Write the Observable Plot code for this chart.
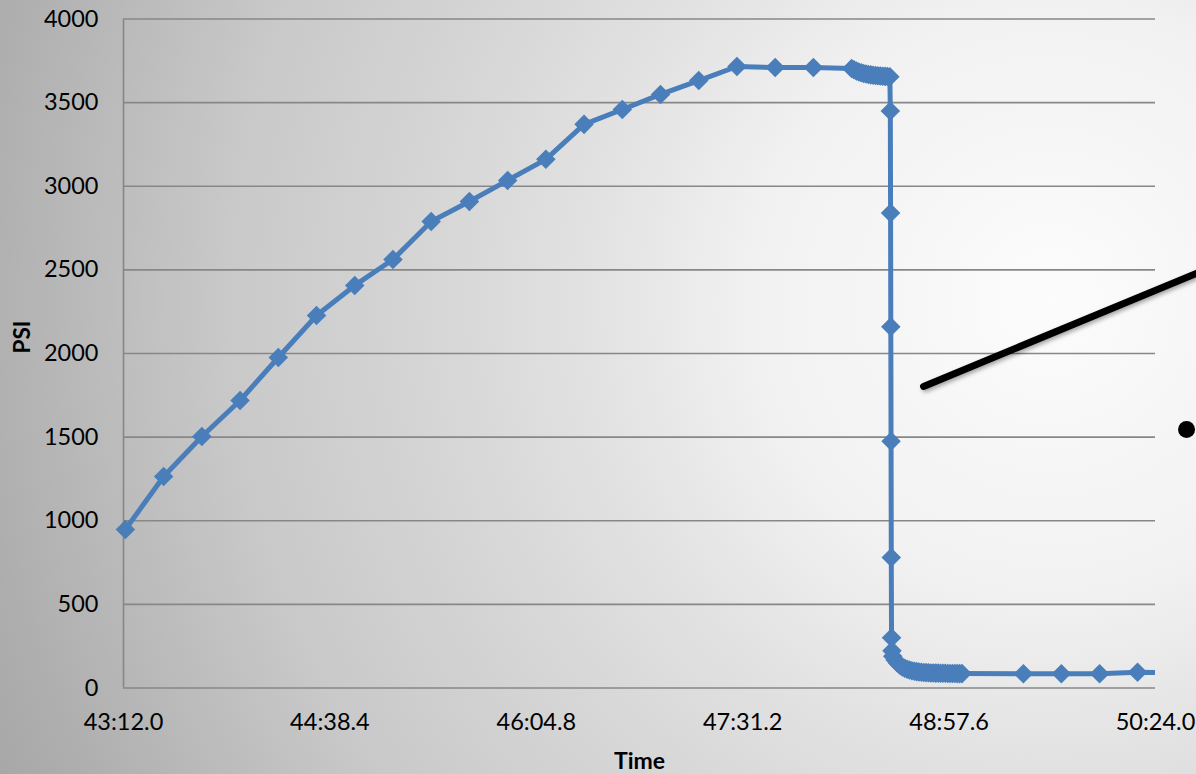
<!DOCTYPE html>
<html>
<head>
<meta charset="utf-8">
<title>PSI vs Time</title>
<script src="https://cdn.jsdelivr.net/npm/d3@7"></script>
<script src="https://cdn.jsdelivr.net/npm/@observablehq/plot@0.6"></script>
<style>
  html, body { margin: 0; padding: 0; }
  body {
    width: 1196px; height: 774px; overflow: hidden;
    background: radial-gradient(circle farthest-corner at 1050px 300px,
      #fcfcfc 0px, #f1f1f1 300px, #e3e3e3 450px, #d6d6d6 620px,
      #c9c9c9 820px, #acacac 1100px, #a4a4a4 1200px);
  }
  #chart svg { display: block; }
</style>
</head>
<body>
<div id="chart"></div>
<script>
// Pump-up phase: one reading every 16 s (time as mm:ss.s, pressure in PSI)
const rampTime = ["43:12.8", "43:28.8", "43:44.8", "44:00.8", "44:16.8", "44:32.8", "44:48.8",
  "45:04.8", "45:20.8", "45:36.8", "45:52.8", "46:08.8", "46:24.8", "46:40.8", "46:56.8",
  "47:12.8", "47:28.8", "47:44.8", "48:00.8", "48:16.8"];
const rampPsi = [948, 1265, 1504, 1719, 1976, 2227, 2407, 2562, 2789, 2909, 3035, 3161,
  3370, 3459, 3549, 3632, 3716, 3710, 3710, 3704];

// Hold before release, logged every second
const holdTime = ["48:17.8", "48:18.8", "48:19.8", "48:20.8", "48:21.8", "48:22.8", "48:23.8",
  "48:24.8", "48:25.8", "48:26.8", "48:27.8", "48:28.8", "48:29.8", "48:30.8", "48:31.8", "48:32.8"];
const holdPsi = [3696, 3689, 3683, 3678, 3674, 3671, 3668, 3666, 3664, 3662, 3661, 3659,
  3658, 3657, 3656, 3655];

// Release: fast drop, then the residual pressure settling
const releaseTime = ["48:33.0", "48:33.1", "48:33.2", "48:33.3", "48:33.4", "48:33.5", "48:33.7",
  "48:34.0", "48:35.0", "48:36.0", "48:37.0", "48:38.0", "48:39.0", "48:40.0", "48:41.0",
  "48:42.0", "48:43.0", "48:44.0", "48:45.0", "48:46.0", "48:47.0", "48:48.0", "48:49.0",
  "48:50.0", "48:51.0", "48:52.0", "48:53.0", "48:54.0", "48:55.0", "48:56.0", "48:57.0",
  "48:58.0", "48:59.0", "49:00.0", "49:01.0", "49:02.0", "49:03.0"];
const releasePsi = [3450, 2840, 2160, 1475, 780, 300, 222, 190, 168, 150, 136, 126, 118, 112,
  107, 103, 100, 98, 96, 94, 93, 92, 91, 90, 90, 89, 89, 88, 88, 88, 87, 87, 87, 87, 86, 86, 86];

// Tail readings after the release
const tailTime = ["49:28.7", "49:44.6", "50:00.6", "50:16.5", "50:32.5"];
const tailPsi = [85, 85, 85, 94, 92];

// Axis ticks
const xTickLabels = ["43:12.0", "44:38.4", "46:04.8", "47:31.2", "48:57.6", "50:24.0"];
const yTicks = [0, 500, 1000, 1500, 2000, 2500, 3000, 3500, 4000];

// Callout pointer and bullet
const calloutTime = ["48:46.9", "50:50.0"];
const calloutPsi = [1803, 2531];
const bulletTime = ["50:37.0"];
const bulletPsi = [1546];

const toSec = s => { const [m, r] = s.split(":"); return +m * 60 + +r; };
const fmt = t => {
  const m = Math.floor(t / 60 + 1e-9);
  const s = t - m * 60;
  return `${m}:${s.toFixed(1).padStart(4, "0")}`;
};

const series = [
  ...rampTime.map((t, i) => ({t: toSec(t), psi: rampPsi[i]})),
  ...holdTime.map((t, i) => ({t: toSec(t), psi: holdPsi[i]})),
  ...releaseTime.map((t, i) => ({t: toSec(t), psi: releasePsi[i]})),
  ...tailTime.map((t, i) => ({t: toSec(t), psi: tailPsi[i]}))
];
const xTicks = xTickLabels.map(toSec);
const xDomain = [xTicks[0], xTicks[xTicks.length - 1]];
const callout = calloutTime.map((t, i) => ({t: toSec(t), psi: calloutPsi[i]}));
const bullet = bulletTime.map((t, i) => ({t: toSec(t), psi: bulletPsi[i]}));

const blue = "#4a7ebb";
const gridColor = "#878787";

const chart = Plot.plot({
  width: 1196,
  height: 774,
  marginLeft: 123,
  marginRight: 41,
  marginTop: 18.5,
  marginBottom: 86.5,
  style: {background: "transparent", fontFamily: "Lato, 'Open Sans', sans-serif", fontSize: "23.5px", color: "#000"},
  x: {type: "linear", domain: xDomain},
  y: {domain: [0, 4000]},
  marks: [
    Plot.gridY(yTicks, {stroke: gridColor, strokeOpacity: 1, strokeWidth: 1.6}),
    Plot.ruleX([xDomain[0]], {stroke: gridColor, strokeWidth: 1.6}),
    Plot.axisY(yTicks, {tickSize: 0, tickPadding: 25, fontSize: 23.5, tickFormat: d => String(d), label: null}),
    Plot.axisX(xTicks, {tickSize: 0, tickPadding: 25, fontSize: 23.5, tickFormat: fmt, label: null}),
    Plot.text(["Time"], {frameAnchor: "bottom", dy: 81, fontWeight: "bold", fontSize: 23}),
    Plot.text(["PSI"], {frameAnchor: "left", dx: -101, rotate: -90, fontWeight: "bold", fontSize: 22.5}),
    Plot.line(series, {x: "t", y: "psi", stroke: blue, strokeWidth: 5, strokeLinejoin: "round", clip: true}),
    Plot.dot(series.filter(d => d.t <= xDomain[1]), {x: "t", y: "psi", symbol: "diamond2", r: 8.8, fill: blue, stroke: "none"}),
    Plot.line(callout, {x: "t", y: "psi", stroke: "#000", strokeWidth: 7,
      imageFilter: "drop-shadow(2px 2px 2px rgba(0,0,0,0.35))"}),
    Plot.dot(bullet, {x: "t", y: "psi", r: 8.5, fill: "#000", stroke: "none"})
  ]
});

document.getElementById("chart").appendChild(chart);
</script>
</body>
</html>
